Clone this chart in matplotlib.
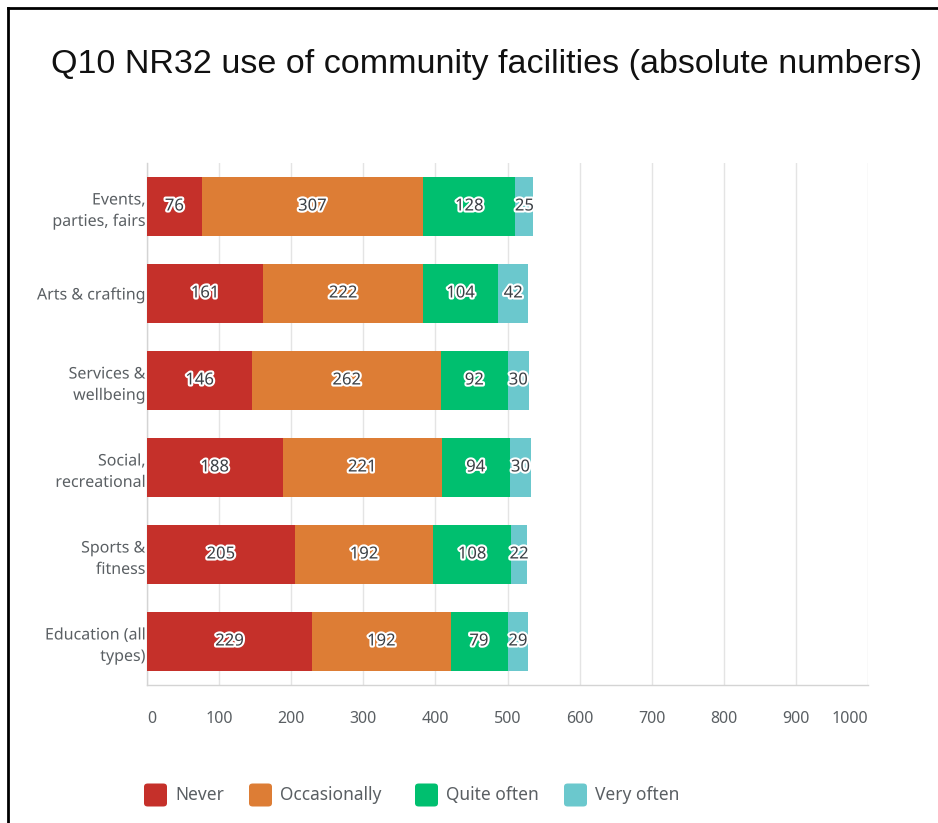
import matplotlib
matplotlib.use("Agg")
import matplotlib.pyplot as plt
import matplotlib.patheffects as pe
from matplotlib.lines import Line2D
from matplotlib.patches import FancyBboxPatch
import numpy as np

categories = ["Events,\nparties, fairs", "Arts & crafting", "Services &\nwellbeing",
              "Social,\nrecreational", "Sports &\nfitness", "Education (all\ntypes)"]
series_names = ["Never", "Occasionally", "Quite often", "Very often"]
never = [76, 161, 146, 188, 205, 229]
occasionally = [307, 222, 262, 221, 192, 192]
quite_often = [128, 104, 92, 94, 108, 79]
very_often = [25, 42, 30, 30, 22, 29]
x_ticks = [0, 100, 200, 300, 400, 500, 600, 700, 800, 900, 1000]

colors = ["#C5302A", "#DD7D35", "#00BF6F", "#6BC8CD"]
text_grey = "#5a5f63"
ui_font = "Noto Sans"

W, H = 938, 823
fig = plt.figure(figsize=(W / 100, H / 100), dpi=100)
fig.patch.set_facecolor("white")

ax = fig.add_axes([147 / W, 1 - 685 / H, (868 - 147) / W, (685 - 163) / H])

y = np.arange(len(categories))
left = np.zeros(len(categories))
for name, vals, col in zip(series_names, [never, occasionally, quite_often, very_often], colors):
    vals = np.array(vals, dtype=float)
    bars = ax.barh(y, vals, left=left, height=0.67, color=col, label=name, zorder=3)
    for bar, v in zip(bars, vals):
        ax.text(bar.get_x() + bar.get_width() / 2, bar.get_y() + bar.get_height() / 2,
                f"{int(v)}", ha="center", va="center", fontsize=12, color="#3a3f44",
                family=ui_font, fontweight="semibold", zorder=5,
                path_effects=[pe.withStroke(linewidth=3, foreground="white")])
    left += vals

ax.set_xlim(0, 1000)
ax.set_ylim(len(categories) - 0.5, -0.5)
ax.set_xticks(x_ticks)
ax.set_xticklabels([str(t) for t in x_ticks])
ax.set_yticks(y)
ax.set_yticklabels(categories)
ax.tick_params(axis="both", length=0, labelsize=11.5, colors=text_grey)
ax.tick_params(axis="x", pad=19)
ax.tick_params(axis="y", pad=1)
for lbl in ax.get_xticklabels() + ax.get_yticklabels():
    lbl.set_family(ui_font)
for lbl in ax.get_yticklabels():
    lbl.set_linespacing(1.45)
    lbl.set_zorder(6)
    lbl.set_path_effects([pe.withStroke(linewidth=3, foreground="white")])

# keep the end labels inside the plot width
xlabels = ax.get_xticklabels()
xlabels[0].set_ha("left")
xlabels[-1].set_ha("right")

ax.grid(axis="x", color="#e4e4e4", linewidth=1, zorder=0)
for side in ["top", "right"]:
    ax.spines[side].set_visible(False)
for side in ["left", "bottom"]:
    ax.spines[side].set_color("#d4d4d4")
    ax.spines[side].set_linewidth(1)

fig.text(487 / W, 1 - 65 / H, "Q10 NR32 use of community facilities (absolute numbers)",
         ha="center", va="center", fontsize=24.5, family="Liberation Sans", color="#111111")

# legend drawn by hand: rounded swatches followed by their labels
legend_x = [144, 249, 415, 564]
legend_y = 1 - 795 / H
sw = 23
for lx, name, col in zip(legend_x, series_names, colors):
    fig.patches.append(FancyBboxPatch((lx / W, legend_y - sw / 2 / H), sw / W, sw / H,
                                      boxstyle="round,pad=0,rounding_size=0.004",
                                      transform=fig.transFigure, facecolor=col,
                                      edgecolor="none"))
    fig.text((lx + sw + 8) / W, legend_y, name, ha="left", va="center",
             fontsize=12.5, family=ui_font, color=text_grey)

# frame lines along the left and top edges
fig.add_artist(Line2D([8 / W, 8 / W], [0, 1 - 8 / H], transform=fig.transFigure,
                      color="black", linewidth=2))
fig.add_artist(Line2D([8 / W, 1], [1 - 8 / H, 1 - 8 / H], transform=fig.transFigure,
                      color="black", linewidth=2))

fig.savefig("out.png", dpi=100)
